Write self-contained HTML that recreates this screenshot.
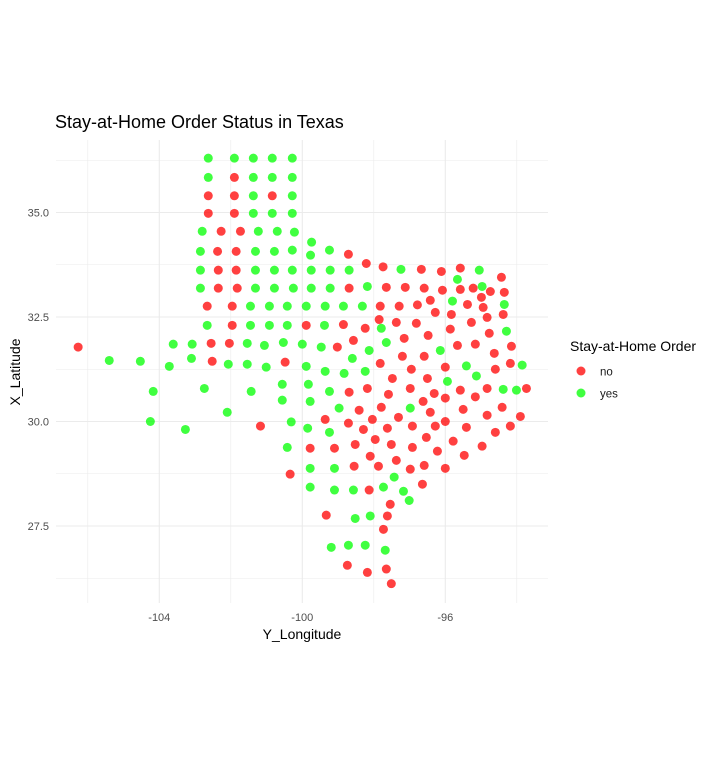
<!DOCTYPE html>
<html><head><meta charset="utf-8"><style>
body{margin:0;background:#fff;}
svg text{font-family:"Liberation Sans",Arial,sans-serif;}
</style></head><body>
<svg id="chart" width="717" height="754" xmlns="http://www.w3.org/2000/svg">
<rect width="717" height="754" fill="#fff"/>
<g id="grid"></g>
<g id="pts"></g>
<g id="axes"></g>
<text x="55" y="128" font-size="18" fill="#000">Stay-at-Home Order Status in Texas</text>
<text x="302" y="639" font-size="14" text-anchor="middle" fill="#000">Y_Longitude</text>
<text x="20" y="372" font-size="14" text-anchor="middle" fill="#000" transform="rotate(-90 20 372)">X_Latitude</text>
<g>
<text x="570" y="351" font-size="14" fill="#000">Stay-at-Home Order</text>
<circle cx="581" cy="371" r="4.5" fill="rgba(255,0,0,0.75)"/>
<text x="600" y="375.5" font-size="11.5" fill="#1a1a1a">no</text>
<circle cx="581" cy="393" r="4.5" fill="rgba(0,255,0,0.75)"/>
<text x="600" y="397.5" font-size="11.5" fill="#1a1a1a">yes</text>
</g>
</svg>
<script>
const lon = [-102.63,-101.90,-101.37,-100.84,-100.28,
-102.63,-101.90,-101.37,-100.84,-100.28,
-102.63,-101.90,-101.37,-100.84,-100.28,
-102.63,-101.90,-101.37,-100.84,-100.28,
-102.80,-102.27,-101.73,-101.23,-100.70,-100.22,-99.74,
-102.85,-102.37,-101.85,-101.31,-100.78,-100.28,-99.77,-99.24,-98.71,-98.21,
-102.85,-102.35,-101.85,-101.31,-100.78,-100.28,-99.75,-99.22,-98.69,
-97.74,-97.24,-96.67,-96.11,-95.58,-95.05,-94.43,-95.66,
-102.85,-102.35,-101.82,-101.31,-100.78,-100.25,-99.75,-99.22,-98.69,
-98.18,-97.65,-97.12,-96.59,-96.08,-95.58,-95.22,-94.97,-94.74,-94.35,-94.99,
-102.66,-101.96,-101.45,-100.92,-100.42,-99.89,-99.36,-98.85,-98.32,-97.82,
-97.29,-96.78,-96.42,-96.28,-95.80,-95.38,-94.94,-94.35,-95.83,
-102.66,-101.96,-101.45,-100.92,-100.42,-99.89,-99.38,-98.85,
-98.24,-97.85,-97.79,-97.37,-96.81,-96.48,-95.86,-95.27,-94.83,-94.38,-94.29,-94.77,
-106.27,-103.61,-103.08,-102.55,-102.04,-101.54,-101.06,-100.53,-100.00,-99.47,-99.02,-98.57,-98.13,-97.65,-97.15,-96.14,-95.66,-95.16,-94.63,-94.15,-98.60,-97.20,-96.59,
-105.40,-104.53,-103.72,-103.10,-102.52,-102.07,-101.54,-101.01,-100.48,-99.89,
-99.36,-98.83,-98.24,-97.82,-96.95,-96.00,-95.41,-94.60,-94.18,-93.85,
-99.83,-99.24,-98.69,-98.18,-97.48,-97.59,-96.98,-96.50,-96.31,-95.94,-96.00,-95.58,-95.13,-95.16,-94.83,-94.38,-94.01,-93.73,
-99.78,-98.97,-98.41,-97.79,-96.98,-96.62,-96.42,-95.50,-94.83,-94.41,-93.90,
-99.36,-98.71,-98.04,-97.31,-96.00,
-99.85,-99.24,-98.29,-97.62,-96.92,-96.28,-95.41,-94.60,-94.18,
-96.53,-95.78,-94.97,
-99.78,-99.10,-98.52,-97.96,-97.51,-96.92,-96.22,-95.47,-98.10,-97.37,-96.59,-96.00,
-99.78,-99.10,-98.55,-97.87,-96.98,
-104.17,-102.74,-101.43,-100.56,-100.56,-102.10,-104.25,-103.27,-101.17,-100.31,-100.42,
-100.34,-97.43,-96.64,-99.78,-99.10,-98.57,-98.13,-97.73,-97.17,-97.01,-97.54,
-99.33,-98.52,-98.10,-97.62,-97.73,-99.19,-98.71,-98.24,-97.68,-98.74,-98.18,-97.65,-97.51];
const lat = [36.30,36.30,36.30,36.30,36.30,
35.84,35.84,35.84,35.84,35.84,
35.40,35.40,35.40,35.40,35.40,
34.98,34.98,34.98,34.98,34.98,
34.55,34.55,34.55,34.55,34.55,34.53,34.29,
34.07,34.07,34.07,34.07,34.07,34.10,33.98,34.10,34.00,33.78,
33.62,33.62,33.62,33.62,33.62,33.62,33.62,33.62,33.62,
33.70,33.64,33.64,33.59,33.67,33.62,33.45,33.40,
33.19,33.19,33.19,33.19,33.19,33.19,33.19,33.19,33.19,
33.23,33.21,33.21,33.19,33.14,33.16,33.19,33.23,33.11,33.09,32.97,
32.76,32.76,32.76,32.76,32.76,32.76,32.76,32.76,32.76,32.76,
32.76,32.79,32.90,32.61,32.88,32.80,32.73,32.80,32.56,
32.30,32.30,32.30,32.30,32.30,32.30,32.30,32.32,
32.23,32.44,32.23,32.37,32.35,32.06,32.21,32.37,32.49,32.56,32.16,32.11,
31.78,31.85,31.85,31.87,31.87,31.87,31.82,31.89,31.85,31.78,31.78,31.94,31.70,31.89,31.99,31.70,31.82,31.85,31.63,31.80,31.51,31.56,31.56,
31.46,31.44,31.32,31.51,31.44,31.37,31.37,31.30,31.42,31.32,
31.20,31.15,31.20,31.39,31.25,31.30,31.33,31.25,31.39,31.35,
30.89,30.72,30.70,30.79,31.03,30.65,30.79,31.03,30.67,30.96,30.56,30.75,31.09,30.59,30.79,30.77,30.75,30.79,
30.48,30.32,30.27,30.34,30.32,30.48,30.22,30.29,30.15,30.34,30.12,
30.05,29.96,30.05,30.10,30.00,
29.84,29.74,29.81,29.84,29.89,29.89,29.86,29.74,29.89,
29.62,29.53,29.41,
29.36,29.36,29.45,29.57,29.45,29.38,29.29,29.19,29.17,29.07,28.95,28.88,
28.88,28.88,28.93,28.93,28.86,
30.72,30.79,30.72,30.89,30.51,30.22,30.00,29.81,29.89,29.99,29.38,
28.74,28.67,28.50,28.43,28.36,28.36,28.36,28.43,28.33,28.11,28.02,
27.76,27.68,27.74,27.74,27.42,26.99,27.04,27.04,26.92,26.56,26.39,26.47,26.12];
const status = ("y y y y y " +
"y n y y y " +
"n n y n y " +
"n n y y y " +
"y n n y y y y " +
"y n n y y y y y n n " +
"y n n y y y y y y " +
"n y n n n y n y " +
"y n n y y y y y n " +
"y n n n n n n y n n n " +
"n n y y y y y y y n " +
"n n n n y n n y n " +
"y n y y y n y n " +
"n n y n n n n n n n y n " +
"n y y n n y y y y y n n y y n y n n n n y n n " +
"y y y y n y y y n y " +
"y y y n n n y n n y " +
"y y n n n n n n n y n n y n n y y n " +
"y y n n y n n n n n n " +
"n n n n n " +
"y y n n n n n n n " +
"n n n " +
"n n n n n n n n n n n n " +
"y y n n n " +
"y y y y y y y y n y y " +
"n y n y y y n y y y n " +
"n y y n n y y y y n n n n").trim().split(/\s+/);

const xS = v => 302.3 + (v + 100) * 35.75;
const yS = v => 212.5 - (v - 35) * 41.8;
const NS = "http://www.w3.org/2000/svg";
const grid = document.getElementById('grid');
const xMajor = [-104, -100, -96];
const xMinor = [-106, -102, -98, -94];
const yMajor = [27.5, 30.0, 32.5, 35.0];
const yMinor = [26.25, 28.75, 31.25, 33.75, 36.25];
const L = 56, R = 548, T = 140, B = 603;
function line(x1,y1,x2,y2,w,name){
  const l = document.createElementNS(NS,'line');
  l.setAttribute('x1',x1);l.setAttribute('y1',y1);l.setAttribute('x2',x2);l.setAttribute('y2',y2);
  l.setAttribute('stroke','#ebebeb');l.setAttribute('stroke-width',w);
  
  
  grid.appendChild(l);
}
xMinor.forEach(v=>line(xS(v),T,xS(v),B,0.6,'x-minor-gridline'));
yMinor.forEach(v=>line(L,yS(v),R,yS(v),0.6,'y-minor-gridline'));
xMajor.forEach(v=>line(xS(v),T,xS(v),B,1.1,'x-major-gridline'));
yMajor.forEach(v=>line(L,yS(v),R,yS(v),1.1,'y-major-gridline'));
const axes = document.getElementById('axes');
xMajor.forEach(v=>{
  const t=document.createElementNS(NS,'text');
  t.setAttribute('x',xS(v));t.setAttribute('y',621);t.setAttribute('font-size','11');
  t.setAttribute('text-anchor','middle');t.setAttribute('fill','#4d4d4d');
  t.textContent=String(v);
  
  
  axes.appendChild(t);
});
yMajor.forEach(v=>{
  const t=document.createElementNS(NS,'text');
  t.setAttribute('x',49);t.setAttribute('y',yS(v)+4);t.setAttribute('font-size','11');
  t.setAttribute('text-anchor','end');t.setAttribute('fill','#4d4d4d');
  t.textContent=v.toFixed(1);
  
  
  axes.appendChild(t);
});
const pts = document.getElementById('pts');
for(let i=0;i<lon.length;i++){
  const c=document.createElementNS(NS,'circle');
  c.setAttribute('cx',xS(lon[i]));c.setAttribute('cy',yS(lat[i]));c.setAttribute('r',4.5);
  c.setAttribute('fill', status[i]==='y' ? 'rgba(0,255,0,0.75)' : 'rgba(255,0,0,0.75)');
  
  
  pts.appendChild(c);
}
</script>
</body></html>
